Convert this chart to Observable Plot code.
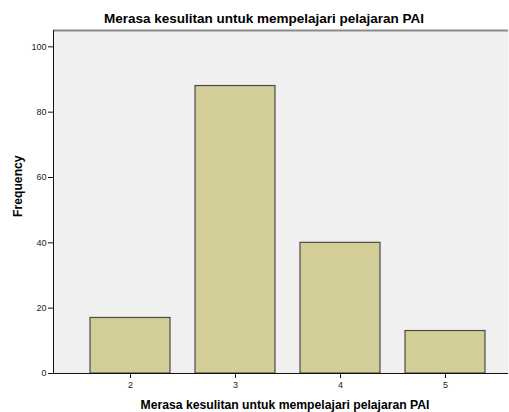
<!DOCTYPE html>
<html>
<head>
<meta charset="utf-8">
<script src="https://cdn.jsdelivr.net/npm/d3@7"></script>
<script src="https://cdn.jsdelivr.net/npm/@observablehq/plot@0.6"></script>
<style>
  html, body { margin: 0; padding: 0; background: #ffffff; }
  #chart svg { display: block; }
</style>
</head>
<body>
<div id="chart"></div>
<script>
const categories = ["2", "3", "4", "5"];
const frequencies = [17, 88, 40, 13];
const yTicks = [0, 20, 40, 60, 80, 100];
const titleText = "Merasa kesulitan untuk mempelajari pelajaran PAI";
const xLabel = "Merasa kesulitan untuk mempelajari pelajaran PAI";
const yLabel = "Frequency";

const data = categories.map((c, i) => ({cat: c, freq: frequencies[i]}));

// left axis line drawn from the plot's own dimensions
function leftAxisLine(index, scales, values, dimensions) {
  const {marginLeft, marginTop, marginBottom, height} = dimensions;
  return d3.create("svg:line")
    .attr("x1", marginLeft + 0.5).attr("x2", marginLeft + 0.5)
    .attr("y1", marginTop).attr("y2", height - marginBottom)
    .attr("stroke", "#111").attr("stroke-width", 1)
    .node();
}

const chart = Plot.plot({
  width: 509,
  height: 412,
  marginLeft: 53,
  marginRight: 1,
  marginTop: 30,
  marginBottom: 39,
  style: {fontFamily: "'Liberation Sans', Arial, sans-serif", fontSize: "9px", background: "#ffffff", color: "#222"},
  x: {domain: categories, range: [89.5, 485.5], paddingInner: 0.24, paddingOuter: 0},
  y: {domain: [0, 105], nice: false},
  marks: [
    Plot.frame({fill: "#f0f0f0", stroke: "none"}),
    Plot.ruleY([105], {stroke: "#8a8a8a", strokeWidth: 2}),
    Plot.barY(data, {x: "cat", y: "freq", fill: "#d3ce97", stroke: "#4a4a4a", strokeWidth: 1.2}),
    leftAxisLine,
    Plot.ruleY([0], {stroke: "#111", strokeWidth: 1}),
    Plot.axisY({ticks: yTicks, tickSize: 5, tickPadding: 2, label: null, fontSize: 9, stroke: "#111"}),
    Plot.axisX({tickSize: 5, tickPadding: 3, label: null, fontSize: 9, stroke: "#111"}),
    Plot.text([titleText], {frameAnchor: "top", dx: -17, dy: -8, lineAnchor: "bottom", fontSize: 13.5, fontWeight: "bold", fill: "#000"}),
    Plot.text([xLabel], {frameAnchor: "bottom", dx: 4, dy: 35, lineAnchor: "bottom", fontSize: 12.2, fontWeight: "bold", fill: "#000"}),
    Plot.text([yLabel], {frameAnchor: "left", rotate: -90, dx: -35, dy: 15, fontSize: 12.2, fontWeight: "bold", fill: "#000"})
  ]
});
document.getElementById("chart").appendChild(chart);
</script>
</body>
</html>
